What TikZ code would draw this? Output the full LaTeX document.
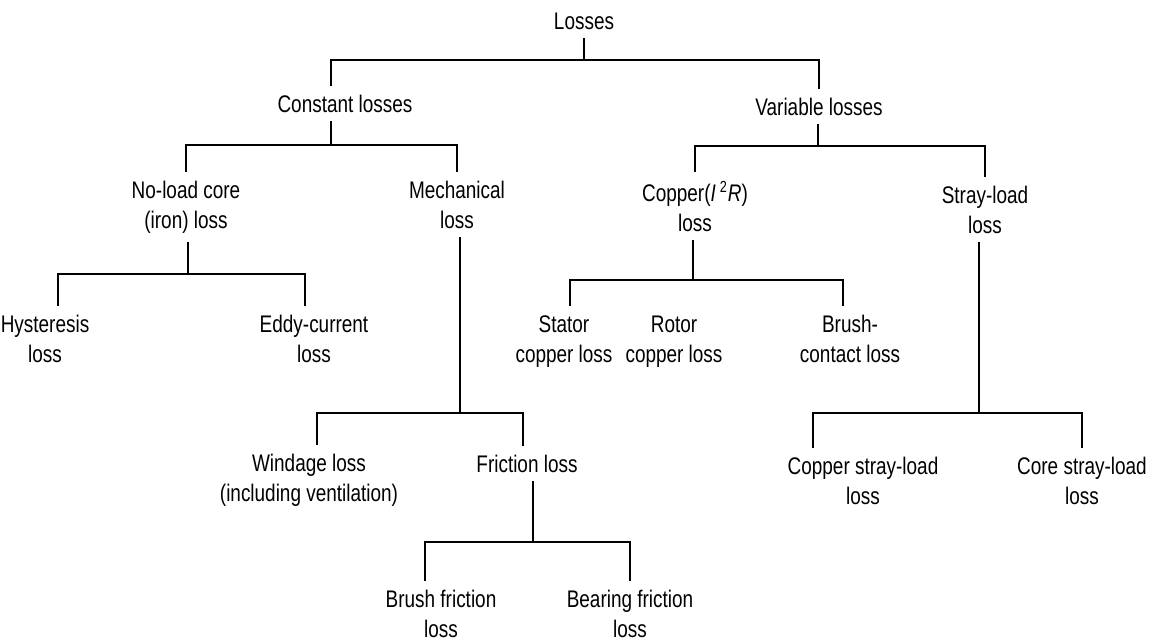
\documentclass[tikz,border=0pt]{standalone}
\usepackage{fontspec}
\setmainfont[FakeStretch=0.79]{Liberation Sans}
\usepackage{tikz}

\begin{document}
\begin{tikzpicture}[x=0.5pt,y=-0.5pt,
		tree/.style={line width=0.9pt},
		lbl/.style={anchor=base,align=center,inner sep=0pt,outer ysep=4.5pt,font=\fontsize{12}{15}\selectfont}]
	\useasboundingbox (0,0) rectangle (1153,643);
	%nodos
	\node[lbl] (losses) at (584,29) {Losses};
	\node[lbl] (cst) at (345,112) {Constant losses};
	\node[lbl] (vrb) at (819,115) {Variable losses};
	\node[lbl] (noload) at (186,228) {No-load core\\(iron) loss};
	\node[lbl] (mech) at (457,228) {Mechanical\\loss};
	\node[lbl] (copper) at (695,231) {Copper(\textit{I}\,\textsuperscript{2}\textit{R})\\loss};
	\node[lbl] (stray) at (985,233) {Stray-load\\loss};
	\node[lbl] (hyst) at (45,362) {Hysteresis\\loss};
	\node[lbl] (eddy) at (314,362) {Eddy-current\\loss};
	\node[lbl] (stator) at (564,362) {Stator\\copper loss};
	\node[lbl] (rotor) at (674,362) {Rotor\\copper loss};
	\node[lbl] (brush) at (850,362) {Brush-\\contact loss};
	\node[lbl] (wind) at (309,501) {Windage loss\\(including ventilation)};
	\node[lbl] (fric) at (527,472) {Friction loss};
	\node[lbl] (brfric) at (441,637) {Brush friction\\loss};
	\node[lbl] (befric) at (630,637) {Bearing friction\\loss};
	\node[lbl] (custray) at (863,504) {Copper stray-load\\loss};
	\node[lbl] (costray) at (1082,504) {Core stray-load\\loss};
	%puntos de las barras
	\coordinate (b0) at (584,60);
	\coordinate (b1) at (331,145);
	\coordinate (b2) at (818,146);
	\coordinate (b3) at (188,274);
	\coordinate (b4) at (460,413);
	\coordinate (b5) at (693,280);
	\coordinate (b6) at (979,413);
	\coordinate (b7) at (533,542);
	%conexiones
	\draw[tree] (losses.south -| b0) -- (b0);
	\draw[tree] (cst.north -| b1) |- (b0) -| (vrb.north);
	\draw[tree] (cst.south -| b1) -- (b1);
	\draw[tree] (noload.north) |- (b1) -| (mech.north);
	\draw[tree] (vrb.south -| b2) -- (b2);
	\draw[tree] (copper.north) |- (b2) -| (stray.north);
	\draw[tree] (noload.south -| b3) -- (b3);
	\draw[tree] (hyst.north -| 58,0) |- (b3) -| (eddy.north -| 305,0);
	\draw[tree] (mech.south -| b4) -- (b4);
	\draw[tree] (wind.north -| 317,0) |- (b4) -| (fric.north -| 523,0);
	\draw[tree] (fric.south -| b7) -- (b7);
	\draw[tree] (brfric.north -| 425,0) |- (b7) -| (befric.north);
	\draw[tree] (copper.south -| b5) -- (b5);
	\draw[tree] (stator.north -| 570,0) |- (b5) -| (brush.north -| 843,0);
	\draw[tree] (stray.south -| b6) -- (b6);
	\draw[tree] (custray.north -| 813,0) |- (b6) -| (costray.north);
\end{tikzpicture}
\end{document}
